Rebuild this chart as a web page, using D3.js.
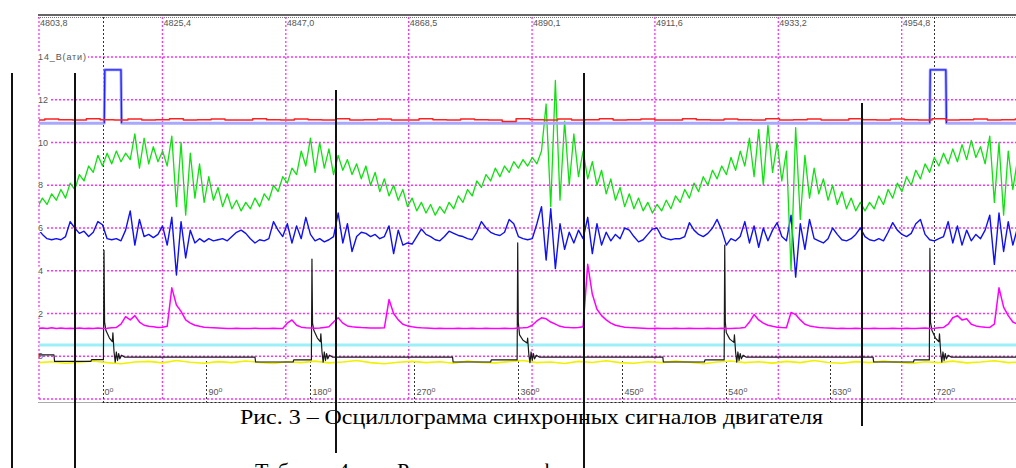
<!DOCTYPE html>
<html>
<head>
<meta charset="utf-8">
<script src="https://cdn.jsdelivr.net/npm/d3@7"></script>
<style>
body { margin: 0; background: #fff; }
svg { display: block; }
</style>
</head>
<body>
<svg id="chart" width="1016" height="468"></svg>
<script>
// time axis (top) and value axis
var timeTicks = [4803.8, 4825.4, 4847.0, 4868.5, 4890.1, 4911.6, 4933.2, 4954.8];
var timeLabels = ['4803,8', '4825,4', '4847,0', '4868,5', '4890,1', '4911,6', '4933,2', '4954,8'];
var valueTicks = [14, 12, 10, 8, 6, 4, 2, 0, -2];
var valueLabels = ['14_В(ати)', '12', '10', '8', '6', '4', '2', '0', ''];
// crank angle axis (bottom)
var angleTicks = [0, 90, 180, 270, 360, 450, 540, 630, 720];
var angleFull = [0, 720];

// dense traces: one value every 4 degrees from -56 deg
var angleStart = -56, angleStep = 4;
var greenValues = [
  7.0, 7.4, 7.1, 7.6, 7.3, 7.8, 7.4, 8.1, 7.8, 8.5,
  8.2, 8.9, 8.6, 9.4, 8.9, 9.5, 9.0, 9.6, 9.1, 9.5,
  9.2, 10.4, 8.8, 10.2, 9.0, 9.8, 9.1, 9.6, 8.9, 10.3,
  7.0, 10.0, 6.6, 9.5, 7.4, 9.0, 7.2, 8.4, 7.3, 7.9,
  7.0, 7.6, 6.9, 7.3, 6.8, 7.2, 6.9, 7.4, 7.0, 7.6,
  7.3, 8.0, 7.7, 8.4, 8.1, 8.8, 8.5, 9.6, 8.9, 10.2,
  8.6, 10.0, 8.8, 9.7, 8.5, 9.4, 8.7, 9.2, 8.5, 9.0,
  8.3, 8.9, 8.0, 8.6, 7.7, 8.3, 7.5, 8.0, 7.3, 7.8,
  7.0, 7.4, 6.8, 7.2, 6.7, 7.1, 6.6, 7.0, 6.7, 7.2,
  6.9, 7.5, 7.2, 7.8, 7.5, 8.2, 7.9, 8.5, 8.2, 8.8,
  8.4, 8.9, 8.6, 9.1, 8.8, 9.2, 8.9, 9.3, 9.0, 9.6,
  11.8, 7.0, 12.9, 7.3, 11.0, 8.0, 10.4, 8.4, 9.6, 8.3,
  9.1, 8.0, 8.7, 7.6, 8.3, 7.3, 7.9, 7.0, 7.6, 6.9,
  7.4, 6.8, 7.2, 6.7, 7.1, 6.8, 7.3, 6.9, 7.5, 7.2,
  7.8, 7.4, 8.1, 7.7, 8.4, 8.0, 8.7, 8.3, 8.9, 8.5,
  9.3, 8.7, 9.6, 8.9, 10.2, 8.4, 10.6, 8.0, 10.8, 8.6,
  10.0, 8.2, 9.6, 4.0, 10.7, 6.4, 9.4, 7.4, 8.8, 7.6,
  8.3, 7.3, 8.0, 7.1, 7.7, 6.9, 7.4, 6.8, 7.2, 6.8,
  7.2, 6.9, 7.5, 7.1, 7.8, 7.4, 8.1, 7.7, 8.4, 8.0,
  8.7, 8.3, 9.0, 8.6, 9.3, 8.9, 9.5, 9.0, 9.7, 9.1,
  9.9, 9.2, 10.1, 9.3, 9.8, 9.0, 10.3, 7.2, 10.0, 6.6,
  9.6, 7.8, 9.2
];
var blueValues = [
  5.95, 5.7, 5.5, 5.45, 5.5, 5.45, 5.6, 6.3, 6.0, 5.75,
  5.85, 5.6, 5.8, 6.3, 6.15, 5.5, 5.45, 5.5, 5.4, 5.9,
  6.8, 5.2, 6.4, 5.6, 5.7, 5.55, 5.7, 6.1, 5.2, 6.5,
  3.8, 6.3, 4.6, 5.9, 5.3, 5.5, 5.35, 5.5, 5.4, 5.45,
  5.5, 5.4, 5.6, 5.8, 5.9, 5.75, 5.5, 5.3, 5.45, 5.4,
  5.5, 6.3, 5.9, 5.6, 6.2, 5.3, 6.1, 5.5, 6.5, 5.7,
  5.4, 5.5, 5.35, 5.45, 5.6, 6.7, 5.3, 6.2, 4.9, 5.6,
  5.8, 5.75, 5.6, 5.7, 5.5, 5.6, 6.1, 4.8, 5.9, 5.2,
  5.3, 5.25, 5.6, 5.95, 5.7, 5.6, 5.45, 5.4, 5.6, 5.85,
  5.75, 5.65, 5.6, 5.5, 5.45, 5.8, 6.3, 6.0, 5.8, 5.7,
  5.65, 5.8, 6.4, 6.2, 5.6, 5.5, 5.45, 5.5, 6.2, 7.0,
  4.5, 6.9, 4.1, 6.2, 5.0, 5.8, 5.3, 5.9, 5.5, 6.5,
  4.8, 6.2, 5.2, 5.8, 5.4, 5.7, 5.5, 6.0, 5.9, 5.6,
  5.35, 5.45, 5.7, 5.95, 6.0, 5.6, 5.5, 5.45, 5.5, 5.5,
  5.6, 6.25, 5.9, 5.7, 5.6, 5.75, 6.0, 6.4, 5.9, 5.2,
  5.5, 5.4, 5.6, 6.3, 5.3, 6.1, 5.1, 6.0, 5.4, 5.9,
  6.25, 5.6, 5.4, 6.6, 3.7, 6.2, 5.0, 6.4, 5.5, 5.4,
  5.3, 5.5, 6.0, 5.7, 5.45, 5.4, 5.5, 5.7, 6.0, 5.6,
  5.45, 5.4, 5.5, 5.4, 5.8, 6.25, 5.9, 5.7, 5.6, 5.75,
  6.2, 6.4, 5.7, 5.45, 5.4, 5.5, 5.6, 6.3, 5.3, 6.1,
  5.2, 5.9, 5.4, 5.7, 5.5, 5.9, 6.6, 4.3, 6.7, 4.9,
  6.3, 5.2, 6.0
];
var magentaValues = [
  1.3, 1.32, 1.3, 1.33, 1.3, 1.32, 1.3, 1.31, 1.3, 1.32,
  1.3, 1.31, 1.3, 1.32, 1.3, 1.31, 1.33, 1.35, 1.5, 1.85,
  1.7, 1.9, 1.6, 1.45, 1.4, 1.38, 1.35, 1.36, 1.4, 3.2,
  2.4, 2.1, 1.7, 1.55, 1.45, 1.4, 1.36, 1.34, 1.33, 1.32,
  1.31, 1.3, 1.3, 1.31, 1.3, 1.3, 1.3, 1.31, 1.3, 1.3,
  1.3, 1.31, 1.3, 1.3, 1.55, 1.7, 1.45, 1.36, 1.33, 1.32,
  1.31, 1.32, 1.35, 1.38, 1.6, 1.8, 1.55, 1.42, 1.38, 1.36,
  1.34, 1.33, 1.32, 1.32, 1.32, 1.33, 2.65, 2.0, 1.7, 1.5,
  1.42, 1.38, 1.35, 1.33, 1.32, 1.31, 1.3, 1.31, 1.3, 1.3,
  1.3, 1.31, 1.3, 1.3, 1.31, 1.3, 1.3, 1.31, 1.3, 1.3,
  1.3, 1.31, 1.3, 1.3, 1.32, 1.33, 1.35, 1.45, 1.65, 1.8,
  1.75, 1.6, 1.5, 1.4, 1.36, 1.34, 1.33, 1.34, 1.38, 4.3,
  2.9, 2.2, 1.9, 1.7, 1.55, 1.45, 1.4, 1.36, 1.34, 1.33,
  1.32, 1.31, 1.3, 1.3, 1.31, 1.3, 1.3, 1.3, 1.31, 1.3,
  1.3, 1.31, 1.3, 1.3, 1.3, 1.31, 1.3, 1.3, 1.31, 1.3,
  1.3, 1.31, 1.32, 1.34, 1.6, 1.95, 1.7, 1.55, 1.45, 1.4,
  1.36, 1.34, 1.33, 2.05, 1.95, 1.7, 1.5, 1.42, 1.38, 1.35,
  1.33, 1.32, 1.31, 1.3, 1.31, 1.3, 1.3, 1.31, 1.3, 1.3,
  1.3, 1.31, 1.3, 1.3, 1.3, 1.31, 1.3, 1.3, 1.31, 1.3,
  1.3, 1.31, 1.32, 1.3, 1.31, 1.33, 1.35, 1.5, 1.8, 1.9,
  1.7, 1.75, 1.5, 1.42, 1.38, 1.36, 1.35, 1.5, 3.2, 2.3,
  1.9, 1.6, 1.5
];

// slow traces: one value every 12 degrees from -56 deg
var slowStep = 12;
var yellowValues = [
  -0.3, -0.26, -0.33, -0.28, -0.22, -0.3, -0.35, -0.27, -0.24, -0.31,
  -0.2, -0.28, -0.33, -0.25, -0.3, -0.22, -0.29, -0.34, -0.26, -0.3,
  -0.23, -0.31, -0.27, -0.2, -0.3, -0.35, -0.28, -0.24, -0.3, -0.26,
  -0.33, -0.22, -0.29, -0.31, -0.25, -0.2, -0.3, -0.27, -0.34, -0.24,
  -0.29, -0.21, -0.3, -0.33, -0.26, -0.3, -0.23, -0.28, -0.35, -0.27,
  -0.22, -0.3, -0.26, -0.32, -0.24, -0.3, -0.2, -0.29, -0.33, -0.25,
  -0.3, -0.22, -0.28, -0.34, -0.26, -0.3, -0.23, -0.31, -0.27, -0.21,
  -0.3, -0.26
];
var redValues = [
  11.05, 11.1, 11.06, 11.05, 11.11, 11.06, 11.05, 11.1, 11.05, 11.06,
  11.11, 11.05, 11.06, 11.1, 11.05, 11.05, 11.11, 11.06, 11.05, 11.1,
  11.06, 11.05, 11.11, 11.05, 11.06, 11.1, 11.05, 11.05, 11.11, 11.06,
  11.05, 11.1, 11.06, 11.05, 10.98, 11.11, 11.06, 11.05, 11.1, 11.05,
  11.06, 11.11, 11.05, 11.06, 11.1, 11.05, 11.05, 11.11, 11.06, 11.05,
  11.1, 11.06, 11.05, 11.11, 11.05, 11.06, 11.1, 11.05, 11.05, 11.11,
  11.06, 11.05, 11.1, 11.06, 11.05, 11.11, 11.05, 11.06, 11.1, 11.05,
  11.06, 11.1
];

// sparse traces: [angle, value]
var pulseTrace = [[-56, 10.9], [1.5, 10.9], [2, 13.4], [16, 13.4], [16.5, 10.9],
  [716, 10.9], [716.5, 13.4], [730, 13.4], [730.5, 10.9], [792, 10.9]];
var blackTrace = [
  [-56, 0.06], [-42, 0.06], [-41.5, -0.24], [-10, -0.24], [-9.5, -0.16], [0.8, -0.16],
  [1.3, 4.95], [1.8, 1.6], [3, 1.2], [6, 0.85], [8.5, 0.68], [9, 1.1], [10, 0.2], [11, -0.28], [12, 0.2], [13, -0.2], [14, 0.12], [15, -0.12], [16.5, 0.05], [19, -0.04],
  [132, -0.04], [132.5, -0.27], [165, -0.27], [165.5, -0.17], [180.8, -0.17],
  [181.3, 4.55], [181.8, 1.55], [183, 1.2], [186, 0.85], [188.5, 0.68], [189, 1.05], [190, 0.2], [191, -0.28], [192, 0.2], [193, -0.2], [194, 0.12], [195, -0.12], [196.5, 0.05], [199, -0.04],
  [303, -0.04], [303.5, -0.27], [336, -0.27], [336.5, -0.17], [358.9, -0.17],
  [359.4, 5.3], [359.9, 1.6], [361, 1.0], [364, 0.75], [367.5, 0.62], [368, 0.85], [369, 0.1], [370, -0.3], [371, 0.2], [372, -0.2], [373, 0.12], [374, -0.12], [375.5, 0.05], [378, -0.04],
  [485, -0.04], [485.5, -0.27], [521, -0.27], [521.5, -0.17], [538.1, -0.17],
  [538.6, 5.2], [539.1, 1.6], [540, 1.1], [543, 0.8], [546.5, 0.65], [547, 1.0], [548, 0.2], [549, -0.28], [550, 0.2], [551, -0.2], [552, 0.12], [553, -0.12], [554.5, 0.05], [557, -0.04],
  [667, -0.04], [667.5, -0.27], [702, -0.27], [702.5, -0.17], [715.7, -0.17],
  [716.2, 5.05], [716.7, 1.6], [718, 1.2], [721, 0.85], [724, 0.68], [724.5, 1.05], [725.5, 0.2], [726.5, -0.28], [727.5, 0.2], [728.5, -0.2], [729.5, 0.12], [730.5, -0.12], [732, 0.05], [734.5, -0.04],
  [792, -0.04]
];
var cyanLevel = 0.53;

var caption = 'Рис. 3 – Осциллограмма синхронных сигналов двигателя';
var nextTitle = ['Таблица 4 –', 'Результаты', 'фаз'];

// page decoration: table border lines of the scanned page [x, y1, y2]
var scanLines = [[12, 73, 468], [75, 73, 468], [336, 90, 453], [584, 73, 468], [862, 103, 426]];

var svg = d3.select('#chart');
var plotL = 39, plotR = 1016, plotT = 17, plotB = 400;

var xTime = d3.scaleLinear().domain([4803.8, 4954.8]).range([39, 901.7]);
var xAngle = d3.scaleLinear().domain([0, 720]).range([102.5, 934.3]);
var y = d3.scaleLinear().domain([-2, 14]).range([399, 57]);

function px(v) { return Math.round(v) + 0.5; }

svg.append('rect').attr('width', 1016).attr('height', 468).attr('fill', '#fff');

// top frame
svg.append('line').attr('x1', 38).attr('x2', plotR).attr('y1', 15).attr('y2', 15)
    .attr('stroke', '#333').attr('stroke-width', 1.6);
svg.append('line').attr('x1', 38).attr('x2', plotR).attr('y1', 17.5).attr('y2', 17.5)
    .attr('stroke', '#777').attr('stroke-dasharray', '1,1');

// grid
svg.append('g').selectAll('line').data(timeTicks).join('line')
    .attr('x1', function(d) { return xTime(d); })
    .attr('x2', function(d) { return xTime(d); })
    .attr('y1', plotT).attr('y2', plotB)
    .attr('stroke', '#ff30ff').attr('stroke-width', 1.3).attr('stroke-dasharray', '2,2');

svg.append('g').selectAll('line').data(valueTicks).join('line')
    .attr('x1', plotL).attr('x2', plotR)
    .attr('y1', function(d) { return y(d); })
    .attr('y2', function(d) { return y(d); })
    .attr('stroke', '#ff30ff').attr('stroke-width', 1.3).attr('stroke-dasharray', '2,2');

// bottom axis
svg.append('line').attr('x1', 38).attr('x2', plotR).attr('y1', 402.5).attr('y2', 402.5)
    .attr('stroke', '#aaa');
svg.append('line').attr('x1', xAngle(0)).attr('x2', xAngle(720)).attr('y1', 402.5).attr('y2', 402.5)
    .attr('stroke', '#222').attr('stroke-dasharray', '2,2');

// crank angle markers
svg.append('g').selectAll('line').data(angleTicks).join('line')
    .attr('x1', function(d) { return px(xAngle(d)); })
    .attr('x2', function(d) { return px(xAngle(d)); })
    .attr('y1', function(d) { return angleFull.indexOf(d) >= 0 ? plotT : 361; })
    .attr('y2', 402)
    .attr('stroke', '#333').attr('stroke-dasharray', '2,2');

var aLab = svg.append('g').selectAll('text').data(angleTicks).join('text')
    .attr('x', function(d) { return xAngle(d) + 2; })
    .attr('y', 395)
    .attr('font-family', 'Liberation Sans, Arial, sans-serif')
    .attr('font-size', 9).attr('fill', '#555')
    .text(function(d) { return d; });
aLab.append('tspan').attr('dy', -3).attr('font-size', 7).text('o');

// time labels
svg.append('g').selectAll('text').data(timeTicks).join('text')
    .attr('x', function(d) { return xTime(d) + 1; })
    .attr('y', 26)
    .attr('font-family', 'Liberation Sans, Arial, sans-serif')
    .attr('font-size', 9).attr('fill', '#555')
    .text(function(d, i) { return timeLabels[i]; });

// traces
svg.append('clipPath').attr('id', 'plot').append('rect')
    .attr('x', plotL).attr('y', plotT).attr('width', plotR - plotL).attr('height', plotB - plotT);
var traces = svg.append('g').attr('clip-path', 'url(#plot)').attr('fill', 'none')
    .attr('stroke-linejoin', 'round');

var denseLine = d3.line()
    .x(function(d, i) { return xAngle(angleStart + i * angleStep); })
    .y(function(d) { return y(d); });
var slowLine = d3.line()
    .x(function(d, i) { return xAngle(angleStart + i * slowStep); })
    .y(function(d) { return y(d); });
var pairLine = d3.line()
    .x(function(d) { return xAngle(d[0]); })
    .y(function(d) { return y(d[1]); });

traces.append('line').attr('x1', plotL).attr('x2', plotR)
    .attr('y1', y(cyanLevel)).attr('y2', y(cyanLevel))
    .attr('stroke', '#9ef0f8').attr('stroke-width', 3);

traces.append('path').attr('d', slowLine(yellowValues))
    .attr('stroke', '#f0f000').attr('stroke-width', 1.6);

traces.append('path').attr('d', pairLine(blackTrace))
    .attr('stroke', '#1a1a1a').attr('stroke-width', 1.2);

traces.append('path').attr('d', denseLine(magentaValues))
    .attr('stroke', '#ff00ff').attr('stroke-width', 1.5);

traces.append('path').attr('d', denseLine(blueValues))
    .attr('stroke', '#1010f0').attr('stroke-width', 1.4);

traces.append('path').attr('d', denseLine(greenValues))
    .attr('stroke', '#10e010').attr('stroke-width', 1.3);

traces.append('path').attr('d', pairLine(pulseTrace))
    .attr('stroke', '#a8a8ff').attr('stroke-width', 3);
traces.append('path').attr('d', pairLine(pulseTrace.slice(1, 5)))
    .attr('stroke', '#2020ff').attr('stroke-width', 1.3);
traces.append('path').attr('d', pairLine(pulseTrace.slice(5, 9)))
    .attr('stroke', '#2020ff').attr('stroke-width', 1.3);

traces.append('path').attr('d', d3.line().curve(d3.curveStep)
        .x(function(d, i) { return xAngle(angleStart + i * slowStep); })
        .y(function(d) { return y(d); })(redValues))
    .attr('stroke', '#ff2020').attr('stroke-width', 1.5);

// value labels with white background, on top of the traces
var vLab = svg.append('g').selectAll('g').data(valueTicks.filter(function(d, i) { return valueLabels[i]; })).join('g');
vLab.append('rect');
vLab.append('text')
    .attr('x', 38)
    .attr('y', function(d) { return y(d); })
    .attr('dominant-baseline', 'central')
    .attr('font-family', 'Liberation Sans, Arial, sans-serif')
    .attr('font-size', 9).attr('fill', '#555')
    .attr('textLength', function(d) { return d === 14 ? 48 : null; })
    .text(function(d) { return valueLabels[valueTicks.indexOf(d)]; });
vLab.each(function(d) {
    var g = d3.select(this);
    var b = g.select('text').node().getBBox();
    if (d === 0) { g.select('rect').remove(); return; }
    g.select('rect').attr('x', b.x).attr('y', b.y + 1).attr('width', b.width + 2).attr('height', b.height - 2).attr('fill', '#fff');
});

// page text
svg.append('text').attr('x', 240).attr('y', 424)
    .attr('font-family', 'Liberation Serif, Times New Roman, serif')
    .attr('font-size', 22).attr('fill', '#000')
    .attr('textLength', 583).attr('lengthAdjust', 'spacingAndGlyphs')
    .text(caption);

svg.append('g').selectAll('text').data(nextTitle).join('text')
    .attr('x', function(d, i) { return [255, 397, 540][i]; })
    .attr('y', 477.5)
    .attr('font-family', 'Liberation Serif, Times New Roman, serif')
    .attr('font-size', 22).attr('fill', '#000')
    .text(function(d) { return d; });

svg.append('g').selectAll('line').data(scanLines).join('line')
    .attr('x1', function(d) { return d[0]; }).attr('x2', function(d) { return d[0]; })
    .attr('y1', function(d) { return d[1]; }).attr('y2', function(d) { return d[2]; })
    .attr('stroke', '#111').attr('stroke-width', 2);
</script>
</body>
</html>
